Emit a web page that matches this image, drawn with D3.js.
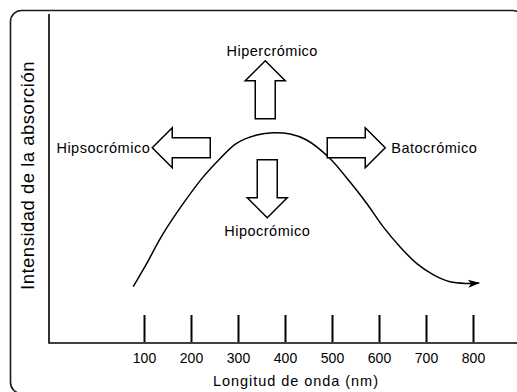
<!DOCTYPE html>
<html>
<head>
<meta charset="utf-8">
<script src="https://cdn.jsdelivr.net/npm/d3@7"></script>
<style>
  html, body { margin: 0; padding: 0; background: #fff; }
  svg { display: block; }
  text { font-family: "Liberation Sans", Arial, Helvetica, sans-serif; fill: #000; }
</style>
</head>
<body>
<svg id="chart" width="517" height="392"></svg>
<script>
// Absorption band: wavelength (nm) vs relative absorption intensity
const wavelength = [77, 102, 141, 184, 226, 262, 297, 340, 375, 411, 446, 494, 538, 574, 609, 645, 680, 716, 751, 787, 813];
const intensity  = [17.1, 23.2, 33.3, 42.5, 50.5, 56.1, 60.7, 63.2, 63.9, 63.5, 61.7, 56.3, 49.0, 42.4, 35.3, 29.2, 24.2, 20.7, 18.6, 18.1, 18.2];

// Axis ticks
const tickValues = [100, 200, 300, 400, 500, 600, 700, 800];

// Band shifts shown around the peak
const shiftLabels = ["Hipercrómico", "Hipocrómico", "Hipsocrómico", "Batocrómico"];
const shiftDirections = ["up", "down", "left", "right"];

const xTitle = "Longitud de onda (nm)";
const yTitle = "Intensidad de la absorción";

const svg = d3.select("#chart");
const W = 517, H = 392;

// plot frame
const axisX = 49, axisY = 343, topY = 14;

const x = d3.scaleLinear().domain([100, 800]).range([144, 473]);
const y = d3.scaleLinear().domain([0, 100]).range([axisY, topY]);

// outer rounded border
svg.append("rect")
  .attr("x", 10.5).attr("y", 10.5)
  .attr("width", 513).attr("height", 383)
  .attr("rx", 11).attr("ry", 11)
  .attr("fill", "none")
  .attr("stroke", "#1a1a1a")
  .attr("stroke-width", 1.6);

// arrowhead for the spectrum curve
svg.append("defs").append("marker")
  .attr("id", "tip")
  .attr("viewBox", "0 0 12 10")
  .attr("refX", 11).attr("refY", 5)
  .attr("markerWidth", 12).attr("markerHeight", 10)
  .attr("markerUnits", "userSpaceOnUse")
  .attr("orient", "auto")
  .append("path")
  .attr("d", "M0,1 L12,5 L0,9 L3,5 Z")
  .attr("fill", "#000");

// L-shaped axes
svg.append("path")
  .attr("d", `M${axisX},${topY} V${axisY} H${W + 5}`)
  .attr("fill", "none")
  .attr("stroke", "#000")
  .attr("stroke-width", 1.6);

// x ticks rising from the axis, labels below
const xAxis = d3.axisBottom(x)
  .tickValues(tickValues)
  .tickSizeInner(-27)
  .tickSizeOuter(0)
  .tickPadding(10)
  .tickFormat(d3.format("d"));

const gx = svg.append("g")
  .attr("transform", `translate(0,${axisY - 1})`)
  .call(xAxis);
gx.select(".domain").remove();
gx.selectAll(".tick line").attr("stroke", "#000").attr("stroke-width", 2);
gx.selectAll(".tick text")
  .attr("fill", "#000")
  .style("font-family", '"Liberation Sans", Arial, sans-serif')
  .style("font-size", "14px")
  .attr("dy", "0.78em");

// axis titles
svg.append("text")
  .attr("x", 296).attr("y", 386)
  .attr("text-anchor", "middle")
  .style("font-size", "14.5px")
  .style("letter-spacing", "0.95px")
  .text(xTitle);

svg.append("text")
  .attr("transform", `translate(33.5,175.5) rotate(-90)`)
  .attr("text-anchor", "middle")
  .style("font-size", "18.5px")
  .style("letter-spacing", "0.5px")
  .text(yTitle);

// spectrum curve
const pts = wavelength.map((w, i) => [x(w), y(intensity[i])]);
const line = d3.line().curve(d3.curveCatmullRom.alpha(0.5));
svg.append("path")
  .attr("d", line(pts))
  .attr("fill", "none")
  .attr("stroke", "#000")
  .attr("stroke-width", 1.5)
  .attr("marker-end", "url(#tip)");

// block arrows placed around the band maximum
const iPeak = d3.maxIndex(intensity);
const px = x(wavelength[iPeak]), py = y(intensity[iPeak]);

const shaftW = 20, headW = 40, headL = 20, shaftL = 38;
const layout = {
  up:    { dx: -8,  dy: -14, tdx: 7,  tdy: -5,  anchor: "middle" },
  down:  { dx: -6,  dy: 27,  tdx: 0,  tdy: 18,  anchor: "middle" },
  left:  { dx: -63, dy: 15,  tdx: -2, tdy: 5,   anchor: "end" },
  right: { dx: 54,  dy: 15,  tdx: 6,  tdy: 5.5, anchor: "start" }
};

// arrow outline pointing along +x from the tail at the origin
function arrowPath() {
  const s = shaftW / 2, h = headW / 2, L = shaftL + headL;
  return `M0,${-s} H${shaftL} V${-h} L${L},0 L${shaftL},${h} V${s} H0 Z`;
}
const angle = { right: 0, down: 90, left: 180, up: -90 };
const unit = { right: [1, 0], down: [0, 1], left: [-1, 0], up: [0, -1] };

shiftLabels.forEach((label, i) => {
  const dir = shiftDirections[i];
  const L = layout[dir];
  const tx = px + L.dx, ty = py + L.dy;
  svg.append("path")
    .attr("transform", `translate(${tx},${ty}) rotate(${angle[dir]})`)
    .attr("d", arrowPath())
    .attr("fill", "#fff")
    .attr("stroke", "#000")
    .attr("stroke-width", 1.5)
    .attr("stroke-linejoin", "miter");
  const len = shaftL + headL;
  const ex = tx + unit[dir][0] * len, ey = ty + unit[dir][1] * len;
  svg.append("text")
    .attr("x", ex + L.tdx).attr("y", ey + L.tdy)
    .attr("text-anchor", L.anchor)
    .style("font-size", "14.5px")
    .style("letter-spacing", "0.5px")
    .text(label);
});
</script>
</body>
</html>
